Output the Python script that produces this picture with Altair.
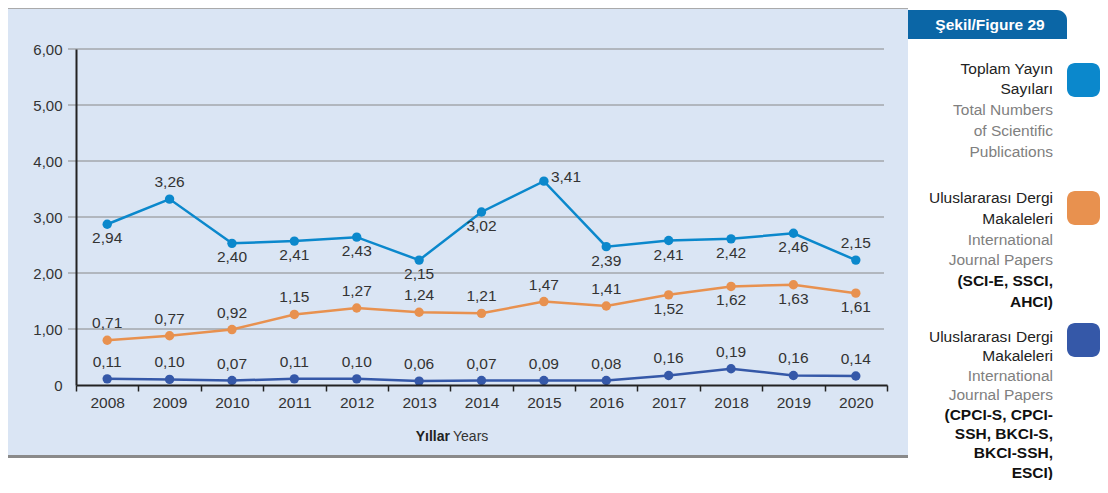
import altair as alt
import pandas as pd

FONT = "Liberation Sans"

# ---------------- data ----------------
years = [str(y) for y in range(2008, 2021)]

# plotted positions (as drawn) and printed labels
total_pos = [2.87, 3.32, 2.53, 2.57, 2.64, 2.23, 3.09, 3.64, 2.47, 2.58, 2.61, 2.71, 2.23]
total_lbl = [2.94, 3.26, 2.40, 2.41, 2.43, 2.15, 3.02, 3.41, 2.39, 2.41, 2.42, 2.46, 2.15]
total_side = ["below", "above", "below", "below", "below", "below", "below",
              "right", "below", "below", "below", "below", "above"]

intl_pos = [0.80, 0.88, 0.99, 1.26, 1.375, 1.30, 1.28, 1.49, 1.41, 1.61, 1.76, 1.79, 1.64]
intl_lbl = [0.71, 0.77, 0.92, 1.15, 1.27, 1.24, 1.21, 1.47, 1.41, 1.52, 1.62, 1.63, 1.61]
intl_side = ["above"] * 9 + ["below"] * 4

conf_pos = [0.11, 0.10, 0.08, 0.11, 0.11, 0.07, 0.08, 0.08, 0.08, 0.17, 0.29, 0.17, 0.16]
conf_lbl = [0.11, 0.10, 0.07, 0.11, 0.10, 0.06, 0.07, 0.09, 0.08, 0.16, 0.19, 0.16, 0.14]
conf_side = ["above"] * 13

series_names = ["total", "intl", "conf"]
series_colors = ["#0b88cc", "#e8914f", "#3558a8"]

y_ticks = [0, 1, 2, 3, 4, 5, 6]
grid_values = [1, 2, 3, 4, 5, 6]

legend_blocks = [
    (["Toplam Yayın", "Sayıları"], ["Total Numbers", "of Scientific", "Publications"], []),
    (["Uluslararası Dergi", "Makaleleri"], ["International", "Journal Papers"],
     ["(SCI-E, SSCI,", "AHCI)"]),
    (["Uluslararası Dergi", "Makaleleri"], ["International", "Journal Papers"],
     ["(CPCI-S, CPCI-", "SSH, BKCI-S,", "BKCI-SSH,", "ESCI)"]),
]

# ---------------- build table ----------------
rows = []
for name, pos, lbl, side in [("total", total_pos, total_lbl, total_side),
                             ("intl", intl_pos, intl_lbl, intl_side),
                             ("conf", conf_pos, conf_lbl, conf_side)]:
    for yr, p, l, s in zip(years, pos, lbl, side):
        rows.append({"year": yr, "series": name, "v": p,
                     "lbl": f"{l:.2f}".replace(".", ","), "side": s})
df = pd.DataFrame(rows)
grid_df = pd.DataFrame({"v": grid_values})
one = pd.DataFrame({"a": [0]})

W, H = 811, 336

yscale = alt.Scale(domain=[0, 6], nice=False, zero=True)
yaxis = alt.Axis(values=y_ticks, grid=False, ticks=False, tickSize=0, title=None,
                 labelExpr="datum.value == 0 ? '0' : replace(format(datum.value, '.2f'), '.', ',')",
                 labelFont=FONT, labelFontSize=15, labelColor="#333333", labelPadding=14,
                 domainColor="#222222", domainWidth=2, zindex=1)
xscale = alt.Scale(type="band", paddingInner=0, paddingOuter=0)
xaxis = alt.Axis(tickBand="extent", labelAngle=0, grid=False, title=None,
                 tickSize=6, tickColor="#222222", tickWidth=1.5,
                 domainColor="#222222", domainWidth=2,
                 labelFont=FONT, labelFontSize=15.5, labelColor="#333333", labelPadding=4,
                 zindex=1)

X = alt.X("year:O", scale=xscale, axis=xaxis, sort=years)
Y = alt.Y("v:Q", scale=yscale, axis=yaxis)
C = alt.Color("series:N", scale=alt.Scale(domain=series_names, range=series_colors), legend=None)

# background panel
bg = alt.Chart(one).mark_rect(color="#dae5f4").encode(
    x=alt.value(-68), x2=alt.value(832), y=alt.value(-41), y2=alt.value(406))
top_line = alt.Chart(one).mark_rule(color="#aaaaaa", strokeWidth=1).encode(
    x=alt.value(-68), x2=alt.value(832), y=alt.value(-40.5))
bottom_line = alt.Chart(one).mark_rule(color="#8a8a8a", strokeWidth=3).encode(
    x=alt.value(-68), x2=alt.value(832), y=alt.value(407.5))

grid = alt.Chart(grid_df).mark_rule(color="#888888", strokeWidth=1).encode(
    y=Y, x=alt.value(-8), x2=alt.value(808))

base = alt.Chart(df)
lines = base.mark_line(strokeWidth=2.5).encode(x=X, y=Y, color=C)
points = base.mark_circle(size=88, opacity=1).encode(x=X, y=Y, color=C)

txt = dict(font=FONT, fontSize=15.5, color="#333333")
lab_above = base.transform_filter("datum.side == 'above'").mark_text(dy=-17, **txt).encode(
    x=X, y=Y, text="lbl:N")
lab_below = base.transform_filter("datum.side == 'below'").mark_text(dy=14, **txt).encode(
    x=X, y=Y, text="lbl:N")
lab_right = base.transform_filter("datum.side == 'right'").mark_text(
    align="left", dx=7, dy=-4, **txt).encode(x=X, y=Y, text="lbl:N")

# x-axis title
xt1 = alt.Chart(one).mark_text(text="Yıllar", font=FONT, fontSize=14, fontWeight="bold",
                               color="#222222", align="right").encode(
    x=alt.value(374), y=alt.value(388))
xt2 = alt.Chart(one).mark_text(text="Years", font=FONT, fontSize=14,
                               color="#333333", align="left").encode(
    x=alt.value(377), y=alt.value(388))

# header tab
tab = alt.Chart(one).mark_rect(color="#0b66a6", cornerRadiusTopRight=10).encode(
    x=alt.value(832), x2=alt.value(991), y=alt.value(-39), y2=alt.value(-10))
tab_text = alt.Chart(one).mark_text(text="Şekil/Figure 29", font=FONT, fontSize=15.5,
                                    fontWeight="bold", color="white").encode(
    x=alt.value(914), y=alt.value(-24))

# legend
legend_layers = []
block_starts = [19.5, 149, 288]
block_steps = [20.8, 20.8, 19.4]
square_tops = [14, 142, 274]
for (tr, en, code), y0, step, sq, col in zip(legend_blocks, block_starts, block_steps,
                                            square_tops, series_colors):
    i = 0
    for line in tr:
        legend_layers.append(alt.Chart(one).mark_text(
            text=line, font=FONT, fontSize=15.5, color="#222222", align="right").encode(
            x=alt.value(977), y=alt.value(y0 + i * step)))
        i += 1
    for line in en:
        legend_layers.append(alt.Chart(one).mark_text(
            text=line, font=FONT, fontSize=15.5, color="#808080", align="right").encode(
            x=alt.value(977), y=alt.value(y0 + i * step)))
        i += 1
    for line in code:
        legend_layers.append(alt.Chart(one).mark_text(
            text=line, font=FONT, fontSize=15.5, fontWeight="bold", color="#111111",
            align="right").encode(x=alt.value(977), y=alt.value(y0 + i * step)))
        i += 1
    legend_layers.append(alt.Chart(one).mark_rect(color=col, cornerRadius=8).encode(
        x=alt.value(991), x2=alt.value(1024), y=alt.value(sq), y2=alt.value(sq + 34)))

chart = alt.layer(
    bg, top_line, bottom_line, grid, lines, points, lab_above, lab_below, lab_right,
    xt1, xt2, tab, tab_text, *legend_layers
).properties(
    width=W, height=H,
    autosize=alt.AutoSizeParams(type="none"),
    padding={"left": 68, "top": 41, "right": 213, "bottom": 95},
    background="white",
).configure_view(stroke=None)

chart.save("out.html", embed_options={"renderer": "svg", "actions": False})
